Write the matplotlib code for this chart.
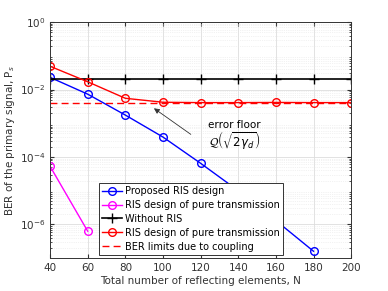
import matplotlib.pyplot as plt
from matplotlib.ticker import LogLocator, NullFormatter

N = [40, 60, 80, 100, 120, 140, 160, 180, 200]

# BER values
proposed_N = [40, 60, 80, 100, 120, 140, 160, 180]
proposed = [2.3e-2, 7.3e-3, 1.75e-3, 3.9e-4, 6.5e-5, 1.0e-5, 1.3e-6, 1.6e-7]
pure_magenta_N = [40, 60]
pure_magenta = [5.3e-5, 6.3e-7]
without_ris = [2.1e-2] * len(N)
pure_red = [4.9e-2, 1.7e-2, 5.5e-3, 4.2e-3, 4.1e-3, 4.1e-3, 4.15e-3, 4.1e-3, 4.1e-3]
coupling_limit = [4.0e-3, 4.0e-3]
coupling_N = [40, 200]

plt.rcParams['font.family'] = 'DejaVu Sans'
fig = plt.figure(figsize=(3.88, 2.91), dpi=100)
ax = fig.add_axes([0.129, 0.113, 0.776, 0.811])

ms = 5.5
ax.semilogy(proposed_N, proposed, 'b-o', lw=1, ms=ms, mfc='none', mew=1,
            label='Proposed RIS design')
ax.semilogy(pure_magenta_N, pure_magenta, '-o', color='magenta', lw=1, ms=ms,
            mfc='none', mew=1, label='RIS design of pure transmission')
ax.semilogy(N, without_ris, 'k-+', lw=1.2, ms=7, mew=1, label='Without RIS')
ax.semilogy(N, pure_red, 'r-o', lw=1, ms=ms, mfc='none', mew=1,
            label='RIS design of pure transmission')
ax.semilogy(coupling_N, coupling_limit, 'r--', lw=1, dashes=(5, 3),
            label='BER limits due to coupling')

ax.set_xlim(40, 200)
ax.set_ylim(1e-7, 1)
ax.set_xticks(N)
ax.set_yticks([1e0, 1e-2, 1e-4, 1e-6])
ax.yaxis.set_minor_locator(LogLocator(base=10, subs=range(2, 10), numticks=20))
ax.yaxis.set_minor_formatter(NullFormatter())
ax.tick_params(which='both', direction='in', top=True, right=True, labelsize=7.5,
               colors='#333333')
ax.tick_params(which='major', length=3)
ax.tick_params(which='minor', length=1.5)
ax.grid(True, which='major', color='#dddddd', lw=0.6)
ax.grid(True, which='minor', color='#e6e6e6', lw=0.5, ls=':')
for s in ax.spines.values():
    s.set_color('#333333')
    s.set_linewidth(0.7)

ax.set_xlabel('Total number of reflecting elements, N', fontsize=7.5, color='#333333', labelpad=2)
ax.set_ylabel('BER of the primary signal, P$_s$', fontsize=7.5, color='#333333', labelpad=2)

ax.annotate('', xy=(94, 3.1e-3), xytext=(116, 4.2e-4),
            arrowprops=dict(arrowstyle='-|>', color='#333333', lw=0.6,
                            mutation_scale=8))
ax.text(138, 8.7e-4, 'error floor', fontsize=7.5, ha='center', va='center')
ax.text(138, 2.9e-4, r'$\mathcal{Q}\left(\sqrt{2\gamma_d}\right)$', fontsize=8.5,
        ha='center', va='center')

leg = ax.legend(loc='lower left', bbox_to_anchor=(0.163, 0.015), borderaxespad=0,
                fontsize=7, handlelength=2.1, handletextpad=0.3, labelspacing=0.4,
                borderpad=0.3, fancybox=False, framealpha=1, edgecolor='#333333')
leg.get_frame().set_linewidth(0.7)

fig.savefig('out.png', dpi=100)
